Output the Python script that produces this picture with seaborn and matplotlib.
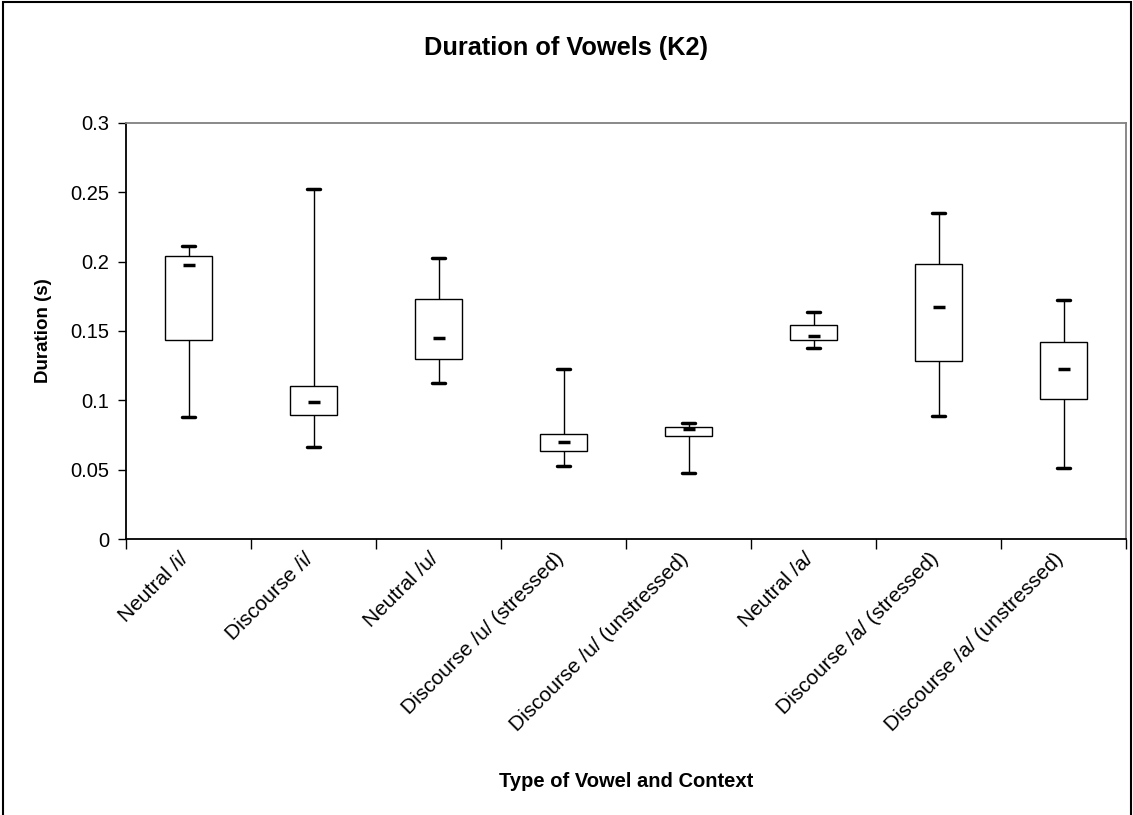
import matplotlib

matplotlib.use("Agg")

import matplotlib.pyplot as plt
import matplotlib.transforms as mtransforms
import numpy as np
import pandas as pd
import seaborn as sns
from matplotlib.patches import Rectangle
from matplotlib.ticker import FuncFormatter, MultipleLocator

# Box statistics (seconds)
categories = [
    "Neutral /i/",
    "Discourse /i/",
    "Neutral /u/",
    "Discourse /u/ (stressed)",
    "Discourse /u/ (unstressed)",
    "Neutral /a/",
    "Discourse /a/ (stressed)",
    "Discourse /a/ (unstressed)",
]
mins = [0.0878, 0.0665, 0.1128, 0.0528, 0.0480, 0.1377, 0.0890, 0.0516]
q1s = [0.1435, 0.0895, 0.1298, 0.0636, 0.0746, 0.1433, 0.1284, 0.1010]
medians = [0.1975, 0.0989, 0.1449, 0.0703, 0.0792, 0.1461, 0.1675, 0.1226]
q3s = [0.2042, 0.1106, 0.1730, 0.0758, 0.0809, 0.1545, 0.1982, 0.1421]
maxs = [0.2112, 0.2522, 0.2025, 0.1226, 0.0840, 0.1637, 0.2350, 0.1725]

# Five points per category: with linear percentiles they give back exactly
# min / Q1 / median / Q3 / max
rows = []
for cat, lo, a, m, b, hi in zip(categories, mins, q1s, medians, q3s, maxs):
    for v in (lo, a, m, b, hi):
        rows.append({"category": cat, "duration": v})
df = pd.DataFrame(rows)
med_df = pd.DataFrame({"category": categories, "median": medians})

sns.set_theme(style="white")
plt.rcParams["font.family"] = ["Liberation Sans", "DejaVu Sans"]
plt.rcParams["text.color"] = "black"
plt.rcParams["axes.labelcolor"] = "black"
plt.rcParams["xtick.color"] = "black"
plt.rcParams["ytick.color"] = "black"

W, H = 1133, 815
fig = plt.figure(figsize=(W / 100, H / 100), dpi=100)
ax = fig.add_axes([126 / W, (H - 539.3) / H, 1000 / W, 416.6 / H])

sns.boxplot(
    data=df,
    x="category",
    y="duration",
    order=categories,
    whis=(0, 100),
    width=0.376,
    color="white",
    linecolor="black",
    linewidth=1,
    showfliers=False,
    medianprops={"visible": False},
    capprops={"linewidth": 2.5},
    capwidths=0.1,
    ax=ax,
)
sns.stripplot(
    data=med_df,
    x="category",
    y="median",
    order=categories,
    jitter=False,
    marker="_",
    size=9,
    linewidth=2.5,
    color="black",
    ax=ax,
)

# y axis
ax.set_ylim(0, 0.3)
ax.yaxis.set_major_locator(MultipleLocator(0.05))
ax.yaxis.set_major_formatter(FuncFormatter(lambda v, _: f"{v:g}"))
ax.tick_params(axis="y", left=True, length=6, width=1, color="black",
               direction="out", labelsize=14.5, pad=6)

# x axis: tick marks between categories, labels at centres
ax.set_xlim(-0.5, len(categories) - 0.5)
ax.set_xticks(np.arange(-0.5, len(categories), 1), minor=True)
ax.set_xticks(range(len(categories)))
ax.set_xticklabels(categories, rotation=45, ha="right", va="center",
                   rotation_mode="anchor", fontsize=15)
ax.tick_params(axis="x", which="minor", bottom=True, length=7, width=1,
               color="black", direction="out")
ax.tick_params(axis="x", which="major", bottom=True, length=0, pad=12)
shift = mtransforms.ScaledTranslation(-3 / 100, 0, fig.dpi_scale_trans)
for lbl in ax.get_xticklabels():
    lbl.set_transform(lbl.get_transform() + shift)

for side in ("left", "bottom"):
    ax.spines[side].set_color("black")
    ax.spines[side].set_linewidth(1.3)
for side in ("top", "right"):
    ax.spines[side].set_color("#808080")
    ax.spines[side].set_linewidth(1.3)

ax.set_ylabel("Duration (s)", fontsize=13.5, fontweight="bold")
ax.yaxis.set_label_coords(-0.074, 0.5)
ax.set_xlabel("Type of Vowel and Context", fontsize=14.5, fontweight="bold")
ax.xaxis.set_label_coords(0.5, -0.558)

fig.text(0.5, 1 - 48 / H, "Duration of Vowels (K2)", ha="center",
         va="center", fontsize=18.3, fontweight="bold")

# outer chart frame
fig.add_artist(Rectangle((3 / W, -0.01), 1128 / W, 1.0 - 1.5 / H + 0.01,
                         transform=fig.transFigure, fill=False,
                         edgecolor="black", linewidth=1.5, clip_on=False))

fig.savefig("out.png", dpi=100)
